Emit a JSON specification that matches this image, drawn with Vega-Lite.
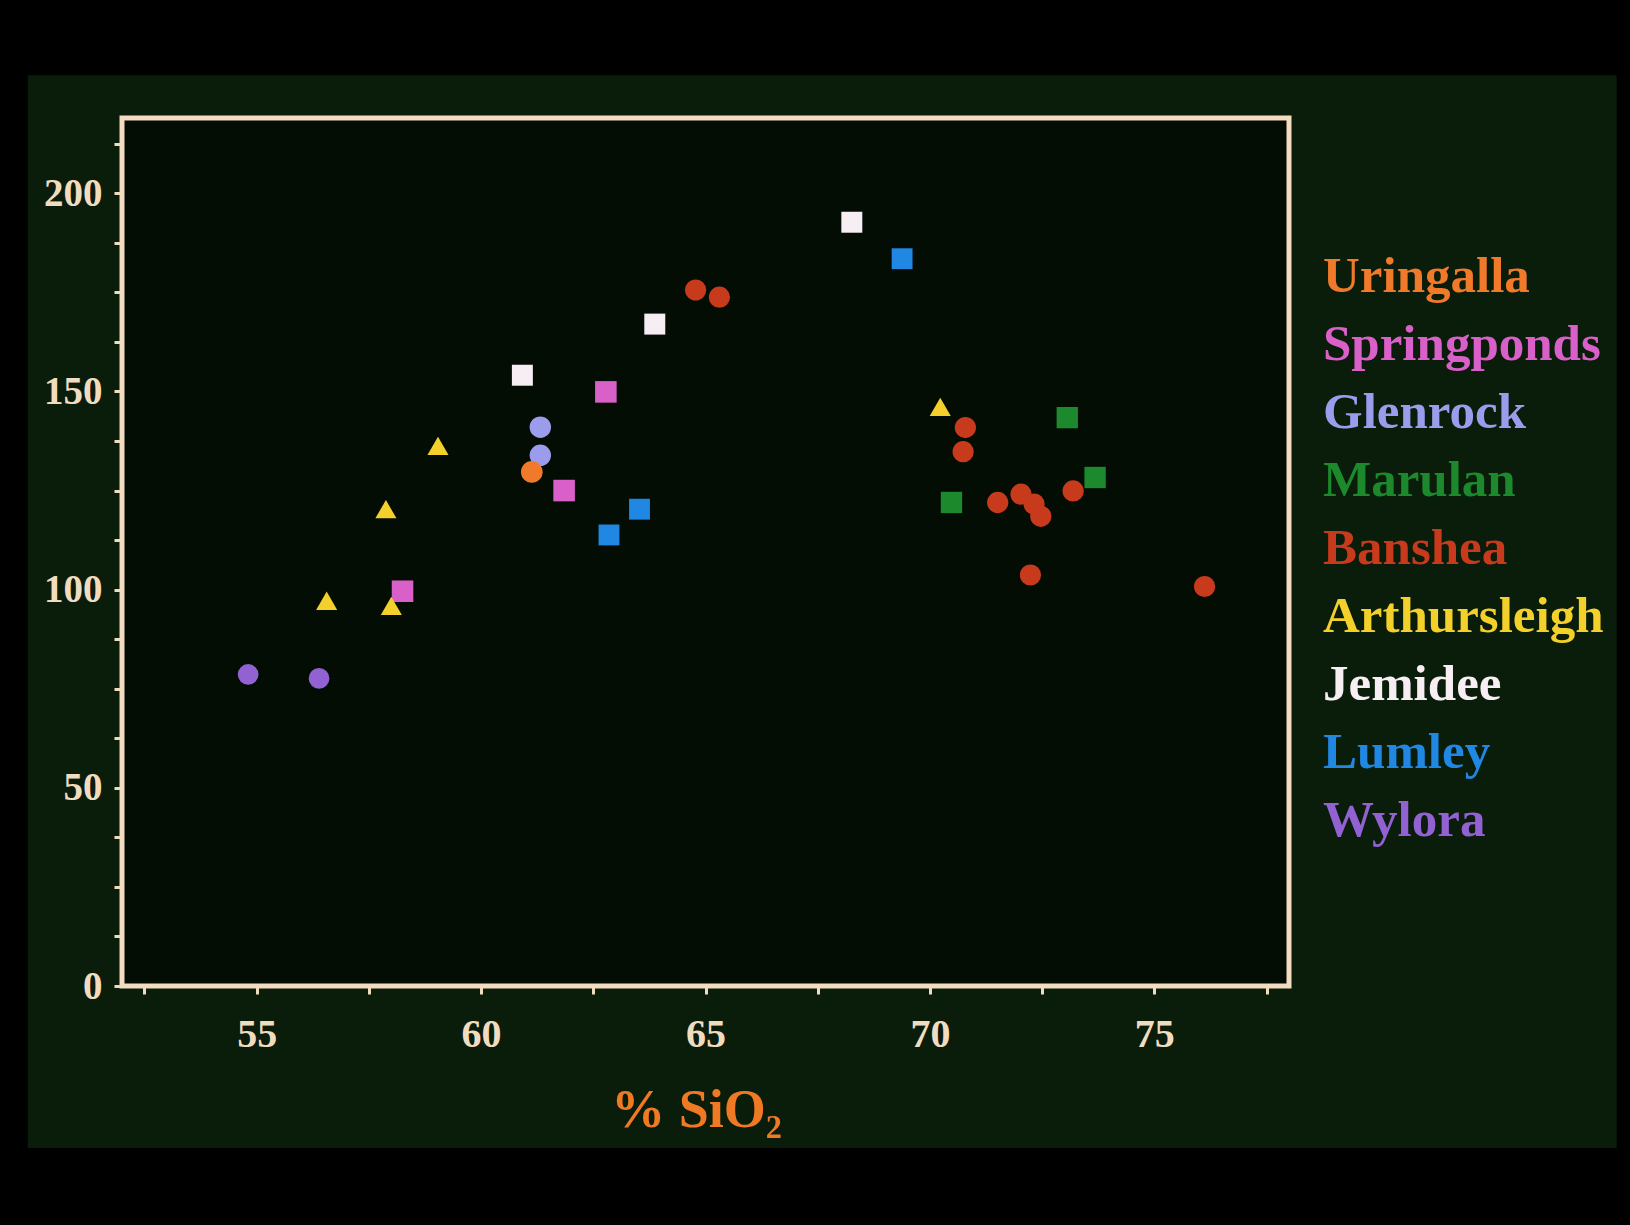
{
  "$schema": "https://vega.github.io/schema/vega-lite/v6.json",
  "autosize": {"type": "none"},
  "width": 1167,
  "height": 868,
  "padding": {"left": 122, "top": 118, "right": 341, "bottom": 239},
  "background": "#000000",
  "config": {
    "view": {"stroke": null, "fill": null},
    "font": "Liberation Serif"
  },
  "data": {
    "values": [
      {"site": "Wylora", "sio2": 54.81, "v": 78.6},
      {"site": "Wylora", "sio2": 56.39, "v": 77.6},
      {"site": "Springponds", "sio2": 58.25, "v": 99.6},
      {"site": "Springponds", "sio2": 61.85, "v": 125.0},
      {"site": "Springponds", "sio2": 62.78, "v": 149.9},
      {"site": "Arthursleigh", "sio2": 56.56, "v": 97.2},
      {"site": "Arthursleigh", "sio2": 58.0, "v": 95.9},
      {"site": "Arthursleigh", "sio2": 57.88, "v": 120.3},
      {"site": "Arthursleigh", "sio2": 59.04, "v": 136.3},
      {"site": "Arthursleigh", "sio2": 70.23, "v": 146.1},
      {"site": "Glenrock", "sio2": 61.32, "v": 141.0},
      {"site": "Glenrock", "sio2": 61.32, "v": 133.9},
      {"site": "Uringalla", "sio2": 61.13, "v": 129.7},
      {"site": "Jemidee", "sio2": 60.92, "v": 154.1},
      {"site": "Jemidee", "sio2": 63.87, "v": 167.0},
      {"site": "Jemidee", "sio2": 68.26, "v": 192.7},
      {"site": "Lumley", "sio2": 62.85, "v": 113.8},
      {"site": "Lumley", "sio2": 63.53, "v": 120.3},
      {"site": "Lumley", "sio2": 69.38, "v": 183.5},
      {"site": "Banshea", "sio2": 64.78, "v": 175.6},
      {"site": "Banshea", "sio2": 65.31, "v": 173.8},
      {"site": "Banshea", "sio2": 70.79, "v": 140.9},
      {"site": "Banshea", "sio2": 70.74, "v": 134.8},
      {"site": "Banshea", "sio2": 71.51, "v": 122.0},
      {"site": "Banshea", "sio2": 72.03, "v": 124.1},
      {"site": "Banshea", "sio2": 72.32, "v": 121.6},
      {"site": "Banshea", "sio2": 72.47, "v": 118.5},
      {"site": "Banshea", "sio2": 73.19, "v": 124.9},
      {"site": "Banshea", "sio2": 72.24, "v": 103.7},
      {"site": "Banshea", "sio2": 76.12, "v": 100.8},
      {"site": "Marulan", "sio2": 73.06, "v": 143.4},
      {"site": "Marulan", "sio2": 73.68, "v": 128.3},
      {"site": "Marulan", "sio2": 70.48, "v": 122.0}
    ]
  },
  "layer": [
    {
      "data": {"values": [{}]},
      "mark": {"type": "rect", "fill": "#0a1d0b"},
      "encoding": {
        "x": {"datum": 49.9, "type": "quantitative"},
        "x2": {"datum": 85.3},
        "y": {"datum": 229.8, "type": "quantitative"},
        "y2": {"datum": -40.9}
      }
    },
    {
      "data": {"values": [{}]},
      "mark": {"type": "rect", "fill": "#030d04", "stroke": "#f3dcc0", "strokeWidth": 5},
      "encoding": {
        "x": {"datum": 52, "type": "quantitative"},
        "x2": {"datum": 78},
        "y": {"datum": 0, "type": "quantitative"},
        "y2": {"datum": 219}
      }
    },
    {
      "mark": {"type": "point", "filled": true, "opacity": 1},
      "encoding": {
        "x": {
          "field": "sio2",
          "type": "quantitative",
          "scale": {"domain": [52, 78], "nice": false, "zero": false},
          "axis": {
            "title": "% SiO₂",
            "titleColor": "#f07a24",
            "titleFont": "Liberation Serif",
            "titleFontWeight": "bold",
            "titleFontSize": 54,
            "titleBaseline": "alphabetic",
            "titleY": 140,
            "titleX": 574,
            "values": [52.5, 55, 57.5, 60, 62.5, 65, 67.5, 70, 72.5, 75, 77.5],
            "labelExpr": "datum.value % 5 === 0 ? datum.label : ''",
            "labelColor": "#f2dcc0",
            "labelFont": "Liberation Serif",
            "labelFontWeight": "bold",
            "labelFontSize": 40,
            "labelPadding": 20,
            "labelFlush": false,
            "domain": false,
            "grid": false,
            "tickColor": "#f2dcc0",
            "tickWidth": 3,
            "tickSize": 8,
            "zindex": 1
          }
        },
        "y": {
          "field": "v",
          "type": "quantitative",
          "scale": {"domain": [0, 219], "nice": false, "zero": false},
          "axis": {
            "title": null,
            "values": [0, 12.5, 25, 37.5, 50, 62.5, 75, 87.5, 100, 112.5, 125, 137.5, 150, 162.5, 175, 187.5, 200, 212.5],
            "labelExpr": "datum.value % 50 === 0 ? datum.label : ''",
            "labelColor": "#f2dcc0",
            "labelFont": "Liberation Serif",
            "labelFontWeight": "bold",
            "labelFontSize": 39,
            "labelPadding": 12,
            "labelFlush": false,
            "domain": false,
            "grid": false,
            "tickColor": "#f2dcc0",
            "tickWidth": 3,
            "tickSize": 8,
            "zindex": 1
          }
        },
        "size": {
          "field": "site",
          "type": "nominal",
          "scale": {
            "domain": ["Uringalla", "Springponds", "Glenrock", "Marulan", "Banshea", "Arthursleigh", "Jemidee", "Lumley", "Wylora"],
            "range": [470, 430, 470, 430, 470, 620, 430, 430, 470]
          },
          "legend": null
        },
        "color": {
          "field": "site",
          "type": "nominal",
          "scale": {
            "domain": ["Uringalla", "Springponds", "Glenrock", "Marulan", "Banshea", "Arthursleigh", "Jemidee", "Lumley", "Wylora"],
            "range": ["#f07a2a", "#d860c8", "#9c9cec", "#1c8a2c", "#c83a1c", "#f4d02a", "#f6eef2", "#2088e2", "#9262d2"]
          },
          "legend": {
            "title": null,
            "orient": "none",
            "legendX": 1146,
            "legendY": 133,
            "padding": 0,
            "symbolOpacity": 0,
            "symbolSize": 1,
            "symbolStrokeWidth": 0,
            "labelOffset": 4,
            "labelFont": "Liberation Serif",
            "labelFontWeight": "bold",
            "labelFontSize": 51,
            "labelLimit": 0,
            "rowPadding": 16,
            "zindex": 1,
            "encode": {
              "labels": {"update": {"fill": {"scale": "color", "field": "value"}}}
            }
          }
        },
        "shape": {
          "field": "site",
          "type": "nominal",
          "scale": {
            "domain": ["Uringalla", "Springponds", "Glenrock", "Marulan", "Banshea", "Arthursleigh", "Jemidee", "Lumley", "Wylora"],
            "range": ["circle", "square", "circle", "square", "circle", "triangle-up", "square", "square", "circle"]
          },
          "legend": null
        }
      }
    }
  ]
}
